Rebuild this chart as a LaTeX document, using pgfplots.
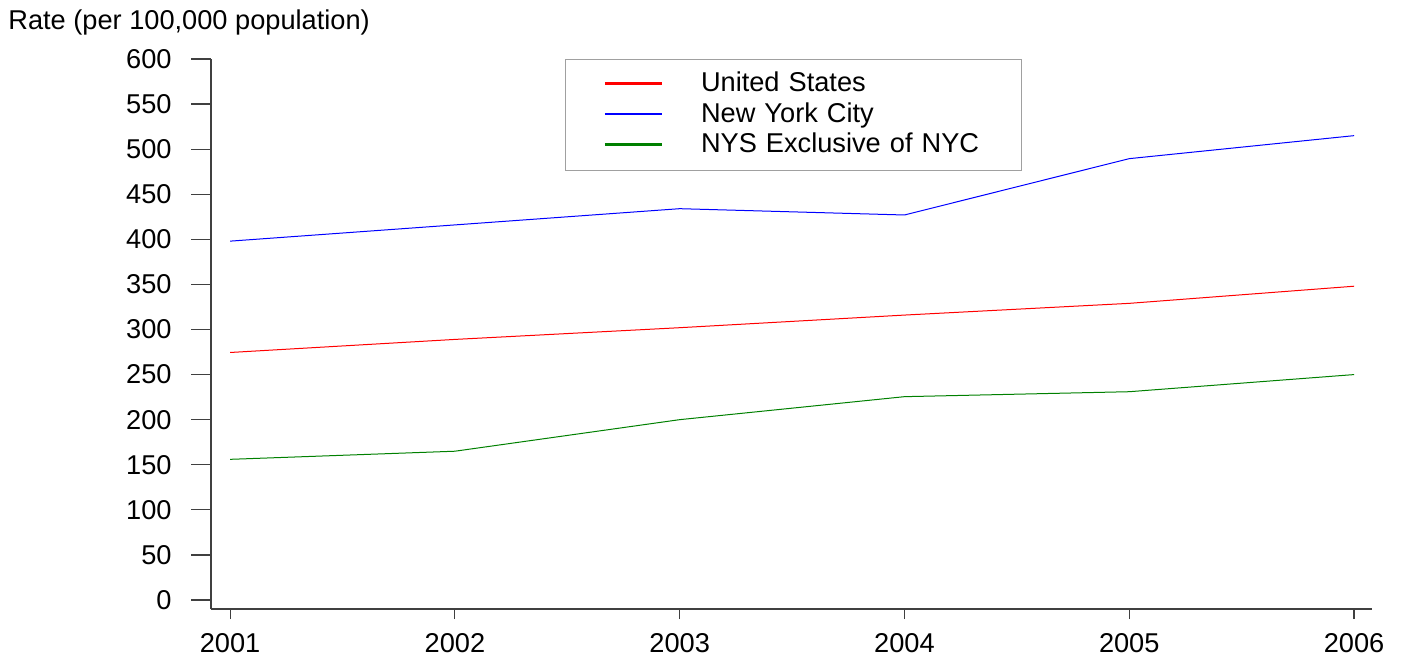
\documentclass[border=0pt]{standalone}
\usepackage{fontspec}
\setmainfont{Liberation Sans}
\usepackage{pgfplots}
\pgfplotsset{compat=1.18}
\definecolor{axisgray}{HTML}{404040}
\definecolor{legframe}{HTML}{A0A0A0}
\definecolor{usred}{HTML}{FF0000}
\definecolor{nycblue}{HTML}{0000FF}
\definecolor{nysgreen}{HTML}{008000}
\begin{document}
\begin{tikzpicture}
  \useasboundingbox (0,0) rectangle (701.5pt,329.5pt);
  \node[anchor=base west, inner sep=0pt, font=\fontsize{13.6}{16}\selectfont]
    at (4pt,314.5pt) {Rate (per 100,000 population)};
  \begin{axis}[
      scale only axis,
      width=580.5pt, height=275pt,
      at={(105.5pt,25pt)}, anchor=south west,
      axis lines*=left,
      axis line style={axisgray, line width=0.6pt},
      tick align=outside,
      major tick length=10pt,
      tick style={axisgray, line width=0.6pt},
      xtick style={/pgfplots/major tick length=5pt},
      xmin=2000.915, xmax=2006.08,
      ymin=-10, ymax=600,
      xtick={2001,2002,2003,2004,2005,2006},
      ytick={0,50,...,600},
      /pgf/number format/assume math mode=true,
      xticklabel style={/pgf/number format/1000 sep={}},
      ticklabel style={font=\fontsize{13.6}{16}\selectfont, text=black},
      yticklabel style={anchor=east, inner sep=0pt, xshift=-9.5pt},
      xticklabel style={anchor=north, inner sep=0pt, yshift=-2pt},
      legend style={at={(0.305,1)}, anchor=north west, draw=legframe,
        line width=0.5pt, inner xsep=19pt, inner ysep=6pt,
        font=\fontsize{13.6}{16}\selectfont, row sep=2.25pt,
        nodes={inner sep=0pt, text height=10pt, text depth=3pt, text width=141pt, anchor=west}},
      legend cell align=left,
      legend image code/.code={\draw[#1, line width=1.2pt] (0pt,0.5pt) -- (28.5pt,0.5pt);},
      every axis legend/.append style={column sep=19pt},
      clip=false,
    ]
    \addplot[draw=usred, line width=0.5pt] coordinates {
      (2001,274.5) (2002,289) (2003,302) (2004,316) (2005,329) (2006,348)};
    \addlegendentry{United States}
    \addplot[draw=nycblue, line width=0.5pt] coordinates {
      (2001,398) (2002,416) (2003,434) (2004,427) (2005,489.5) (2006,515)};
    \addlegendentry{New York City}
    \addplot[draw=nysgreen, line width=0.5pt] coordinates {
      (2001,156) (2002,165) (2003,200) (2004,225.5) (2005,231) (2006,250)};
    \addlegendentry{NYS Exclusive of NYC}
  \end{axis}
\end{tikzpicture}
\end{document}
